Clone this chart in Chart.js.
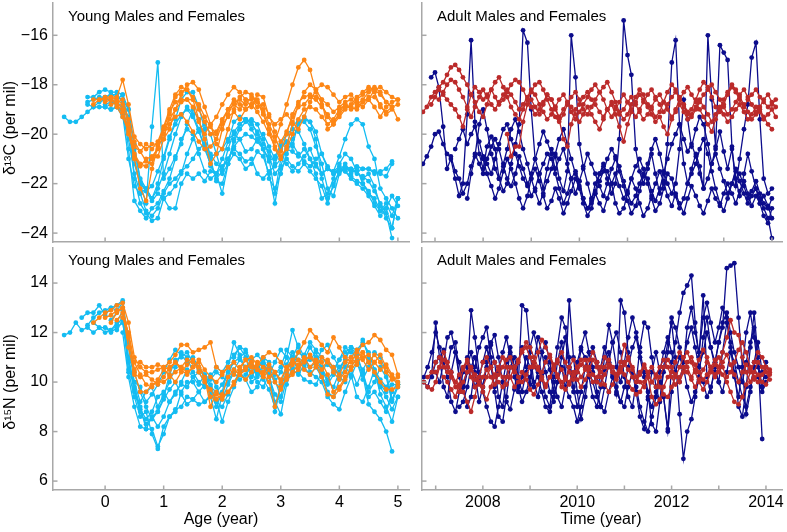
<!DOCTYPE html>
<html>
<head>
<meta charset="utf-8">
<script src="https://cdn.jsdelivr.net/npm/chart.js@4.4.0/dist/chart.umd.min.js"></script>
<style>
  body { margin: 0; background: #fff; width: 787px; height: 532px; position: relative; overflow: hidden;
         font-family: "Liberation Sans", Arial, sans-serif; }
  .panel { position: absolute; }
  .label { position: absolute; color: #000; white-space: nowrap; line-height: 1; }
  .ytitle { transform: translate(-50%, -50%) rotate(-90deg); font-size: 16px; }
  .xtitle { transform: translateX(-50%); font-size: 16px; }
  .ptitle { font-size: 15px; }
</style>
</head>
<body>
<div class="panel" style="left:0;top:0"><canvas id="tl" width="412" height="245"></canvas></div>
<div class="panel" style="left:412px;top:0"><canvas id="tr" width="375" height="245"></canvas></div>
<div class="panel" style="left:0;top:245px"><canvas id="bl" width="412" height="287"></canvas></div>
<div class="panel" style="left:412px;top:245px"><canvas id="br" width="375" height="287"></canvas></div>

<div class="label ptitle" style="left:68px;top:8px">Young Males and Females</div>
<div class="label ptitle" style="left:437px;top:8px">Adult Males and Females</div>
<div class="label ptitle" style="left:68px;top:252px">Young Males and Females</div>
<div class="label ptitle" style="left:437px;top:252px">Adult Males and Females</div>
<div class="label ytitle" style="left:10px;top:128px">δ¹³C (per mil)</div>
<div class="label ytitle" style="left:10px;top:382px">δ¹⁵N (per mil)</div>
<div class="label xtitle" style="left:221px;top:511px">Age (year)</div>
<div class="label xtitle" style="left:601px;top:511px">Time (year)</div>

<script>
// sampling grids
const youngAges = [-0.7, -0.6, -0.5, -0.4, -0.3, -0.2, -0.1, 0.0, 0.1, 0.2,
  0.3, 0.4, 0.5, 0.6, 0.7, 0.8, 0.9, 1.0, 1.1, 1.2,
  1.3, 1.4, 1.5, 1.6, 1.7, 1.8, 1.9, 2.0, 2.1, 2.2,
  2.3, 2.4, 2.5, 2.6, 2.7, 2.8, 2.9, 3.0, 3.1, 3.2,
  3.3, 3.4, 3.5, 3.6, 3.7, 3.8, 3.9, 4.0, 4.1, 4.2,
  4.3, 4.4, 4.5, 4.6, 4.7, 4.8, 4.9, 5.0];

const adultTimes = [2006.75, 2006.83, 2006.92,
  2007.00, 2007.08, 2007.17, 2007.25, 2007.33, 2007.42, 2007.50, 2007.58, 2007.67, 2007.75, 2007.83, 2007.92,
  2008.00, 2008.08, 2008.17, 2008.25, 2008.33, 2008.42, 2008.50, 2008.58, 2008.67, 2008.75, 2008.83, 2008.92,
  2009.00, 2009.08, 2009.17, 2009.25, 2009.33, 2009.42, 2009.50, 2009.58, 2009.67, 2009.75, 2009.83, 2009.92,
  2010.00, 2010.08, 2010.17, 2010.25, 2010.33, 2010.42, 2010.50, 2010.58, 2010.67, 2010.75, 2010.83, 2010.92,
  2011.00, 2011.08, 2011.17, 2011.25, 2011.33, 2011.42, 2011.50, 2011.58, 2011.67, 2011.75, 2011.83, 2011.92,
  2012.00, 2012.08, 2012.17, 2012.25, 2012.33, 2012.42, 2012.50, 2012.58, 2012.67, 2012.75, 2012.83, 2012.92,
  2013.00, 2013.08, 2013.17, 2013.25, 2013.33, 2013.42, 2013.50, 2013.58, 2013.67, 2013.75, 2013.83, 2013.92,
  2014.00, 2014.08];

// tick labels
const carbonTicks = [-24, -22, -20, -18, -16];
const nitrogenTicks = [6, 8, 10, 12, 14];
const youngAgeTicks = [0, 1, 2, 3, 4, 5];
const adultYearTicks = [2007, 2008, 2009, 2010, 2011, 2012, 2013, 2014];
const adultYearLabels = ["", "2008", "", "2010", "", "2012", "", "2014"];

// young, d13C, males and females (cyan / orange)
const youngC_cyan = [
  [-19.3,-19.5,-19.5,-19.3,-19.1,-18.9,-18.9,-18.9,-19.0,-18.9, -19.3,-20.2,-21.6,-22.4,-23.1,-23.3,-23.0,-22.4,-22.0,-21.8,
   -21.5,-21.3,-21.0,-20.6,-20.4,-20.8,-21.2,-21.4,-21.0,-20.5, -20.2,-20.0,-20.1,-20.3,-20.6,-21.0,-22.4,-21.0,-20.6,-20.7,
   -20.9,-20.6,-21.0,-21.3,-21.6,-21.4,-21.6,-21.4,-21.5,-21.8, -22.0,-22.2,-22.5,-22.9,-23.3,-23.0,-23.8,-22.6],
  [null,null,null,null,-18.5,-18.5,-18.3,-18.2,-18.3,-18.3, -18.4,-19.6,-21.8,-22.8,-23.2,-23.5,-23.4,-22.6,-22.4,-22.1,
   -21.6,-20.8,-20.2,-19.8,-19.6,-20.0,-20.8,-21.6,-21.2,-20.3, -19.8,-19.5,-19.4,-19.6,-20.2,-20.9,-21.6,-21.3,-20.5,-19.6,
   -19.5,-19.5,-19.8,-20.5,-21.2,-22.2,-22.5,-21.6,-21.3,-21.4, -21.6,-21.7,-21.9,-22.3,-22.8,-23.2,-24.2],
  [null,null,null,null,-18.7,-18.6,-18.5,-18.5,-18.4,-18.5, -18.6,-19.0,-20.6,-21.8,-22.2,-22.6,-22.2,-21.6,-20.8,-20.0,
   -19.3,-18.9,-19.2,-19.8,-20.6,-21.2,-21.8,-21.5,-20.6,-19.9, -19.6,-19.4,-19.6,-19.9,-20.4,-20.7,-21.2,-20.6,-20.3,-20.5,
   -19.5,-19.4,-19.5,-19.9,-20.8,-21.4,-21.5,-20.9,-20.2,-19.6, -19.4,-19.6,-20.5,-21.0,-22.2,-22.6,-23.0,-23.4],
  [null,null,null,null,-18.8,-18.9,-18.7,-18.6,-18.6,-18.7, -18.9,-19.3,-21.0,-22.0,-22.8,-19.7,-17.1,-21.8,-21.4,-20.9,
   -20.4,-19.6,-19.0,-19.4,-20.4,-21.3,-21.6,-22.4,-21.2,-20.8, -21.0,-21.4,-21.2,-20.7,-20.9,-21.6,-22.8,-21.4,-21.0,-21.3,
   -21.5,-21.2,-21.5,-21.8,-22.1,-22.8,-22.0,-21.5,-21.4,-21.5, -21.3,-21.4,-21.4,-21.5,-21.6,-21.7,-21.2],
  [null,null,null,null,null,null,null,-18.9,-18.8,-18.6, -18.4,-19.0,-20.4,-21.9,-22.3,-22.7,-22.4,-22.6,-23.0,-23.0,
   -22.0,-21.6,-21.8,-21.6,-21.9,-21.5,-21.6,-21.3,-21.0,-20.6, -20.8,-21.1,-21.0,-21.6,-21.8,-21.5,-21.3,-21.0,-21.2,-21.5,
   -21.2,-20.9,-20.6,-21.2,-21.6,-21.4,-21.5,-21.3,-21.5,-21.7, -21.9,-22.0,-22.3,-22.8,-23.1,-23.0,-22.5,-22.9],
  [null,null,null,null,null,null,-18.6,-18.5,-18.4,-18.4, -18.7,-20.6,-22.7,-23.1,-23.4,-23.0,-22.8,-22.3,-21.8,-21.0,
   -20.2,-19.8,-20.0,-20.8,-21.5,-21.8,-21.6,-21.0,-20.3,-19.5, -19.3,-19.4,-19.5,-20.0,-20.6,-21.1,-20.9,-20.4,-20.0,-19.8,
   -19.9,-20.4,-21.0,-21.6,-22.6,-22.4,-21.8,-21.2,-20.8,-21.0, -21.5,-21.8,-21.6,-22.1,-22.9,-23.4,-23.8,-22.6],
  [null,null,null,null,null,null,null,-18.8,-18.7,-18.8, -19.2,-21.0,-22.1,-22.4,-22.2,-22.6,-22.0,-21.0,-20.2,-19.4,
   -18.6,-18.3,-18.3,-18.9,-19.8,-21.0,-21.9,-22.0,-21.2,-20.2, -19.6,-19.4,-19.8,-20.2,-20.6,-21.8,-22.2,-21.6,-20.8,-20.2,
   -19.6,-19.3,-19.5,-20.2,-21.8,-22.6,-22.1,-21.5,-21.2,-21.6, -21.4,-22.0,-22.4,-22.6,-23.1,-22.8,-23.3,-22.6],
  [null,null,null,null,null,null,null,null,-19.0,-18.9, -19.0,-19.8,-21.2,-22.0,-22.3,-22.1,-21.5,-20.9,-20.1,-19.6,
   -19.2,-19.0,-19.3,-19.9,-20.5,-20.9,-20.8,-20.6,-20.2,-20.0, -20.2,-20.7,-20.6,-20.2,-20.0,-20.5,-21.0,-20.5,-20.3,-20.4,
   -20.8,-21.1,-21.3,-21.0,-20.8,-21.3,-21.6,-21.5,-21.4,-21.4, -21.5,-21.4,-21.4,-21.6,-21.5,-21.4,-21.1],
];
const youngC_orange = [
  [null,null,null,null,null,-18.6,-18.6,-18.6,-18.5,-18.5, -17.8,-18.8,-20.1,-20.4,-20.6,-20.4,-20.4,-20.2,-19.8,-19.0,
   -18.4,-18.0,-17.9,-18.2,-18.9,-19.6,-20.4,-20.6,-19.8,-19.0, -18.5,-18.3,-18.4,-18.7,-19.2,-19.8,-20.3,-19.6,-18.8,-18.0,
   -17.3,-17.0,-17.4,-18.3,-18.8,-19.3,-19.6,-19.3,-19.0,-18.8, -18.5,-18.3,-18.1,-18.2,-18.4,-18.7,-18.9,-19.4],
  [null,null,null,null,null,-18.8,-18.6,-18.5,-18.5,-18.6, -18.8,-19.6,-20.8,-21.2,-21.3,-21.0,-20.9,-20.2,-19.2,-18.5,
   -18.3,-18.2,-18.6,-19.4,-20.2,-21.2,-20.8,-19.8,-19.2,-18.7, -18.6,-18.8,-18.5,-18.7,-19.1,-19.8,-20.6,-21.0,-20.5,-19.6,
   -18.8,-18.3,-18.0,-18.2,-18.6,-19.8,-19.6,-19.1,-18.8,-18.9, -19.0,-18.7,-18.6,-18.9,-19.3,-18.9,-18.7,-18.6],
  [null,null,null,null,null,null,null,-18.7,-18.6,-18.8, -19.1,-19.8,-21.0,-22.2,-22.7,-21.4,-20.5,-19.8,-19.1,-18.7,
   -18.6,-18.6,-18.6,-18.8,-19.3,-19.7,-20.0,-19.5,-19.0,-18.6, -18.8,-19.0,-18.8,-18.6,-19.0,-19.6,-20.1,-20.7,-20.0,-19.2,
   -18.7,-18.5,-18.4,-18.5,-18.6,-18.8,-19.1,-18.9,-18.7,-18.6, -18.8,-18.6,-18.3,-18.1,-18.3,-18.7,-18.9,-18.8],
  [null,null,null,null,null,null,null,null,-18.8,-18.7, -19.0,-20.0,-20.9,-21.3,-21.0,-20.9,-20.6,-20.0,-19.6,-19.3,
   -19.2,-19.5,-19.9,-20.3,-20.6,-20.5,-20.2,-19.6,-19.3,-19.1, -19.4,-19.0,-18.8,-19.1,-19.5,-20.0,-20.5,-20.9,-20.6,-20.0,
   -19.4,-19.0,-18.9,-19.0,-19.3,-19.6,-19.4,-19.0,-18.8,-19.0, -18.9,-18.7,-18.5,-18.5,-18.8,-19.2,-19.0],
  [null,null,null,null,null,null,null,null,null,-18.9, -19.3,-19.9,-20.5,-20.7,-21.1,-21.2,-20.4,-19.8,-19.4,-19.0,
   -18.7,-18.6,-18.9,-19.5,-20.0,-19.6,-19.3,-18.8,-18.4,-18.1, -18.3,-18.6,-18.9,-18.4,-18.5,-19.3,-19.6,-19.4,-19.2,-19.5,
   -19.8,-19.3,-18.7,-18.2,-18.0,-18.1,-18.4,-18.7,-18.5,-18.4, -18.7,-18.9,-18.6,-18.2,-18.1,-18.3,-18.5,-18.6],
  [null,null,null,null,null,null,null,null,-18.6,-18.7, -18.6,-19.4,-20.3,-20.7,-20.4,-20.6,-20.3,-19.7,-19.0,-18.4,
   -18.1,-18.2,-18.5,-19.0,-19.5,-20.0,-19.9,-19.4,-19.0,-18.8, -19.0,-18.6,-18.6,-18.9,-18.8,-19.2,-19.9,-20.3,-19.9,-19.3,
   -18.9,-18.8,-18.5,-18.6,-18.9,-19.2,-19.5,-19.2,-18.9,-18.9, -18.6,-18.4,-18.2,-18.3,-18.9,-19.1,-18.9],
];

// young, d15N
const youngN_cyan = [
  [11.9,12.0,12.4,12.1,12.2,12.0,12.2,12.2,12.0,12.2, 12.4,11.0,9.8,9.0,8.1,8.1,7.4,7.9,8.6,8.9,
   9.0,9.4,9.3,9.1,9.2,9.5,9.3,8.4,9.2,9.8, 10.3,10.6,10.4,10.0,9.8,10.3,9.2,8.7,9.9,10.6,
   11.2,11.0,10.4,10.2,10.0,9.4,9.1,8.9,9.6,10.2, 10.8,10.3,9.1,8.8,8.5,8.0,7.2],
  [null,null,null,12.6,12.8,12.8,13.1,12.7,13.0,13.1, 13.3,11.6,10.4,9.6,9.0,8.5,8.8,9.4,10.3,10.9,
   11.0,11.2,10.8,10.5,10.2,9.8,9.6,9.9,10.4,10.8, 11.0,11.2,10.6,10.3,10.7,10.4,10.0,10.4,11.0,12.1,
   11.4,10.8,10.9,11.2,10.6,10.1,10.4,10.9,11.4,11.2, 11.0,11.7,11.0,10.3,9.9,9.6,9.9,9.9],
  [null,null,null,null,12.3,12.6,12.8,12.9,13.0,12.9, 13.2,10.4,9.4,8.6,8.8,7.9,7.3,8.2,8.6,8.8,
   9.6,10.0,10.0,9.6,9.2,9.4,8.5,9.5,10.2,11.0, 11.4,11.0,10.2,10.6,10.9,10.5,8.8,9.8,10.4,11.0,
   11.5,11.0,10.6,10.8,10.3,9.6,9.4,10.1,10.6,10.3, 9.4,9.2,9.8,10.5,9.5,9.0,8.4,9.4],
  [null,null,null,null,null,12.4,12.2,12.0,12.1,12.3, 12.6,10.8,9.6,8.8,8.3,8.6,8.2,8.6,9.2,9.6,
   9.9,9.8,10.2,10.4,10.0,9.6,9.0,9.6,10.6,11.6, 11.1,10.5,10.0,10.2,10.6,10.2,9.5,9.2,10.1,10.5,
   10.6,10.9,11.4,11.0,10.5,10.0,9.8,10.4,11.0,11.4, 11.1,10.4,9.6,10.0,10.6,10.2,9.2,9.8],
  [null,null,null,null,null,null,null,12.2,12.1,12.4, 12.9,11.4,10.0,9.2,9.6,9.8,9.0,9.5,10.0,10.6,
   11.2,11.0,10.4,10.0,9.8,10.2,10.6,10.4,10.8,11.1, 11.4,11.3,10.8,10.4,11.0,10.8,10.3,10.6,11.3,11.0,
   10.6,11.1,11.6,11.3,11.0,10.7,10.5,10.9,11.2,11.4, 11.3,11.6,11.2,10.5,10.1,9.8,10.2,9.9],
  [null,null,null,null,null,null,null,null,12.5,12.8, 13.0,10.9,9.7,8.9,8.5,8.8,9.4,9.6,9.2,9.5,
   10.0,10.5,10.2,9.9,10.3,9.9,9.2,9.0,9.5,10.0, 10.4,10.1,9.6,9.8,10.3,10.6,10.1,9.4,10.4,11.0,
   10.4,10.1,10.0,9.9,10.4,10.8,10.6,10.2,10.0,10.6, 11.0,10.4,9.4,9.6,9.2,8.8,9.6,10.0],
  [null,null,null,null,null,null,null,null,null,12.1, 12.5,10.5,10.0,9.8,9.2,9.5,9.9,10.4,10.9,11.3,
   11.1,10.8,11.0,10.6,10.3,10.1,10.4,10.2,10.0,10.5, 10.9,10.6,10.9,11.1,10.8,10.3,10.8,11.3,11.0,10.5,
   10.3,10.7,11.0,10.8,11.3,11.5,11.0,10.6,10.9,11.4, 10.8,10.1,10.6,11.2,11.0,10.4,9.3,9.9],
  [null,null,null,null,null,null,null,null,null,null, 12.0,10.2,9.0,8.2,8.1,8.6,8.8,9.3,9.7,10.0,
   9.5,9.1,9.3,9.6,9.9,10.3,9.8,9.3,9.9,10.4, 10.1,10.3,10.6,10.4,10.1,9.7,9.0,9.9,10.7,11.2,
   10.9,10.6,10.3,10.6,10.2,9.9,10.3,10.6,10.8,10.5, 9.9,10.5,10.9,10.3,9.8,9.4,8.9,9.4],
];
const youngN_orange = [
  [null,null,null,null,null,12.4,12.6,12.8,12.9,13.1, 13.2,12.4,11.0,10.6,10.4,10.4,10.5,10.6,10.8,11.1,
   11.5,11.5,11.2,11.3,11.4,11.6,10.6,10.4,10.6,10.3, 10.6,10.9,11.0,10.7,11.0,11.2,11.1,10.8,10.5,10.8,
   11.2,11.6,12.1,11.8,11.5,11.2,11.8,11.4,11.0,10.8, 11.2,11.5,11.6,11.9,11.7,11.3,11.1,10.3],
  [null,null,null,null,null,null,null,12.6,12.7,12.9, 13.0,11.8,10.5,10.8,10.6,10.6,10.7,10.6,10.5,10.8,
   10.6,10.4,10.6,10.9,10.5,10.2,10.0,10.3,10.6,10.8, 10.5,10.9,10.6,10.5,10.4,10.7,10.4,10.1,10.6,10.9,
   10.6,10.8,11.1,10.8,10.5,10.9,10.6,10.3,10.8,11.0, 10.7,11.2,10.8,11.1,10.8,10.4,10.1,10.2],
  [null,null,null,null,null,null,null,null,12.4,12.8, 13.0,11.9,10.4,9.6,9.6,9.9,10.0,10.0,10.2,10.4,
   10.6,10.9,10.8,10.6,10.2,9.0,9.6,9.4,9.6,10.0, 10.3,10.5,10.8,10.5,10.3,10.0,9.0,9.8,10.1,10.3,
   10.5,10.9,11.0,10.7,10.2,9.5,9.4,9.7,10.1,10.6, 11.0,11.2,10.8,10.4,10.0,9.7,9.7,9.8],
  [null,null,null,null,null,null,null,null,null,12.5, 12.8,11.4,10.3,10.2,10.3,10.1,9.9,10.2,10.6,10.8,
   10.5,10.3,10.6,10.8,10.1,9.4,9.5,9.3,9.6,9.9, 10.4,10.6,10.8,10.5,10.2,10.5,10.0,9.7,10.2,10.4,
   10.7,11.0,10.6,10.9,10.8,10.3,9.6,9.8,10.2,10.5, 10.8,11.0,11.1,10.8,10.5,10.7,10.3,10.0],
  [null,null,null,null,null,null,null,null,null,null, 12.6,12.0,10.8,10.3,9.9,9.8,10.1,10.5,10.3,10.0,
   10.4,10.7,10.9,10.4,10.0,9.7,9.3,9.5,10.2,10.5, 10.3,10.1,10.4,10.8,10.6,10.2,10.4,10.0,10.3,10.7,
   10.9,10.5,10.3,10.6,11.0,10.8,10.4,10.1,10.4,11.0, 11.3,10.9,10.5,10.8,11.1,10.6,10.2,9.9],
];

// adults, d13C (navy / red), monthly
const adultC_navy = [
  [-21.2,-20.9,-20.5,
   -20.0,-19.9,-20.4,-20.8,-20.9,-21.5,-21.8,-22.4,-22.0,-21.3,-20.8,-21.2,
   -21.6,-21.0,-20.5,-20.2,-20.6,-21.3,-21.8,-22.1,-21.6,-20.9,-21.4,-22.0,
   -22.5,-22.2,-21.6,-21.2,-20.8,-21.0,-21.6,-22.2,-22.8,-22.4,-21.8,-21.5,
   -21.9,-22.6,-23.0,-22.7,-22.0,-21.6,-21.3,-21.5,-22.0,-22.8,-23.2,-23.0,
   -22.4,-21.8,-21.3,-21.0,-21.4,-22.0,-22.6,-23.1,-22.8,-22.2,-21.6,-21.8,
   -22.5,-23.0,-22.6,-22.0,-21.6,-21.2,-20.6,-20.2,-20.8,-21.5,-22.2,-22.8,
   -23.1,-22.6,-22.0,-21.4,-21.9,-22.4,-22.8,-22.5,-22.2,-22.6,-23.0,-23.4,
   -24.2],
  [null,null,-17.7,
   -17.5,-18.1,-19.7,-21.4,-21.0,-21.8,-22.5,-22.0,-19.2,-16.2,-19.5,-20.8,
   -21.4,-20.5,-20.1,-20.6,-21.8,-22.3,-22.0,-21.2,-20.4,-19.6,-15.8,-16.3,
   -19.0,-21.0,-21.6,-22.2,-21.4,-20.6,-20.9,-21.8,-22.3,-21.5,-16.0,-17.7,
   -20.4,-21.3,-22.0,-22.6,-22.3,-21.6,-21.2,-21.8,-22.4,-22.0,-20.2,-15.4,
   -16.8,-17.6,-20.6,-21.5,-22.0,-21.4,-20.8,-21.6,-22.4,-22.0,-20.4,-17.1,
   -16.2,-19.6,-21.2,-22.0,-21.4,-20.8,-21.3,-22.2,-16.0,-18.6,-20.5,-16.4,
   -16.7,-17.0,-20.5,-22.1,-21.0,-19.8,-18.8,-16.9,-16.3,-19.4,-21.8,-22.4,
   -22.2],
  [null,null,null,
   null,null,null,null,null,-20.6,-20.2,-19.8,-20.4,-20.0,-19.7,-20.3,
   -20.9,-21.2,-21.6,-21.0,-20.4,-19.8,-19.6,-20.2,-20.8,-21.3,-21.8,-22.1,
   -21.6,-21.0,-20.4,-19.9,-20.3,-20.8,-21.4,-21.0,-20.6,-21.2,-21.8,-22.4,
   -21.9,-21.4,-20.8,-21.2,-21.6,-22.1,-22.5,-22.0,-21.4,-21.0,-21.3,-21.9,
   -22.4,-22.8,-22.5,-22.0,-21.6,-21.8,-22.3,-22.7,-22.2,-21.6,-21.0,-20.4,
   -20.0,-19.6,-20.2,-20.7,-20.4,-20.9,-21.6,-22.2,-21.8,-21.2,-20.8,-21.4,
   -21.9,-22.4,-22.0,-21.5,-21.6,-22.1,-22.6,-22.3,-21.9,-22.4,-22.8,-23.0,
   -22.6],
  [null,null,null,
   null,null,null,null,null,null,null,null,-22.6,-21.6,-20.9,-19.6,
   -19.0,-19.8,-20.8,-21.4,-21.8,-21.2,-20.6,-19.8,-19.4,-19.9,-20.6,-21.2,
   -21.8,-22.3,-22.8,-22.4,-21.9,-21.4,-20.8,-20.2,-19.8,-20.4,-21.0,-21.6,
   -22.1,-22.6,-23.0,-22.8,-22.4,-21.9,-21.5,-21.0,-20.6,-20.9,-21.5,-22.1,
   -22.7,-23.2,-22.9,-22.3,-21.7,-21.2,-20.6,-20.2,-20.8,-21.5,-22.0,-22.4,
   -22.0,-20.6,-18.6,-19.4,-20.5,-19.8,-19.3,-19.6,-20.4,-21.2,-20.6,-19.9,
   -20.7,-21.4,-20.6,-21.8,-22.5,-21.6,-20.8,-21.5,-22.2,-22.8,-22.5,-22.9,
   -23.4],
  [null,null,null,
   null,null,null,null,null,null,null,null,null,null,null,null,
   -21.0,-21.6,-22.1,-22.6,-22.2,-21.5,-21.0,-21.4,-22.0,-22.6,-23.0,-22.5,
   -21.8,-21.4,-21.9,-22.5,-23.0,-22.7,-22.2,-22.6,-23.2,-22.8,-22.3,-21.8,
   -22.2,-22.8,-23.3,-23.0,-22.4,-22.8,-23.1,-22.6,-22.0,-21.6,-22.1,-22.6,
   -22.3,-21.8,-22.2,-22.8,-23.3,-23.0,-22.5,-22.0,-21.5,-21.9,-22.5,-22.9,
   -22.4,-22.8,-23.2,-22.6,-22.1,-22.5,-22.9,-23.2,-22.7,-22.2,-22.6,-22.9,
   -22.4,-22.0,-22.4,-22.8,-22.3,-21.9,-22.4,-22.9,-22.5,-22.8,-23.3,-23.6,
   -23.0],
];
const adultC_red = [
  [-19.1,-18.9,-18.5,
   -18.3,-18.1,-17.9,-17.6,-17.3,-17.2,-17.4,-17.7,-18.0,-18.4,-18.7,-19.1,
   -19.3,-18.8,-18.2,-17.9,-17.7,-18.1,-18.5,-18.9,-19.2,-19.4,-19.0,-18.6,
   -18.3,-18.0,-17.9,-18.2,-18.6,-19.0,-19.3,-19.5,-19.2,-18.8,-18.5,-18.3,
   -18.6,-19.0,-19.2,-18.9,-18.6,-18.3,-18.1,-17.9,-18.3,-18.7,-19.1,-19.4,
   -19.2,-18.8,-18.5,-18.2,-18.4,-18.8,-19.0,-19.3,-19.1,-18.7,-18.3,-18.0,
   -18.2,-18.6,-18.9,-19.2,-19.0,-18.6,-18.2,-17.9,-18.1,-18.5,-18.9,-19.1,
   -18.8,-18.4,-18.1,-18.3,-18.6,-18.9,-18.6,-18.4,-18.2,-18.5,-18.7,-18.9,
   -18.8,-18.6],
  [null,null,-18.8,
   -18.5,-18.2,-18.4,-18.6,-18.8,-19.0,-19.3,-19.7,-19.0,-18.4,-18.1,-18.3,
   -18.6,-18.4,-18.2,-18.5,-18.8,-18.6,-18.3,-18.0,-17.8,-17.9,-18.2,-18.6,
   -18.9,-19.2,-19.0,-18.7,-18.4,-18.6,-18.9,-19.4,-20.2,-20.5,-19.6,-19.0,
   -18.8,-18.5,-18.3,-18.6,-18.8,-19.1,-19.3,-19.0,-18.8,-19.2,-19.7,-20.3,
   -19.6,-19.1,-18.7,-18.4,-18.6,-18.9,-19.2,-19.5,-19.3,-19.7,-20.0,-19.4,
   -19.0,-18.6,-18.3,-18.1,-18.4,-18.7,-19.0,-19.3,-19.6,-19.9,-19.4,-19.0,
   -18.6,-18.3,-18.0,-18.2,-18.5,-18.8,-19.1,-19.4,-19.2,-19.0,-19.3,-19.6,
   -19.8],
  [null,null,null,
   null,-18.6,-18.3,-18.0,-17.8,-17.9,-18.2,-18.5,-18.9,-19.3,-18.9,-18.5,
   -18.2,-18.5,-18.8,-19.0,-18.7,-18.4,-18.2,-18.4,-18.7,-19.0,-18.8,-18.5,
   -18.2,-18.4,-18.8,-19.1,-19.4,-19.2,-18.9,-18.6,-18.4,-18.7,-19.1,-19.4,
   -19.1,-18.8,-18.5,-18.2,-18.0,-18.3,-18.6,-19.0,-19.3,-19.0,-18.7,-18.4,
   -18.7,-19.0,-19.3,-19.0,-18.7,-18.4,-18.2,-18.5,-18.8,-19.1,-18.8,-18.5,
   -18.3,-18.5,-18.8,-19.1,-19.3,-19.0,-18.7,-18.4,-18.2,-18.0,-18.3,-18.6,
   -18.9,-19.2,-19.0,-18.7,-18.4,-18.2,-18.5,-18.8,-19.1,-18.9,-18.6,-18.4,
   -18.7,-18.9],
  [null,null,null,
   null,null,null,null,null,null,null,null,null,null,null,null,
   null,null,null,null,null,null,-20.0,-20.9,-20.5,-20.5,-19.5,-18.8,
   -18.6,-18.9,-19.2,-18.8,-18.4,-18.6,-19.0,-19.3,-19.0,-18.7,-18.9,-19.2,
   -19.5,-19.2,-18.9,-19.2,-19.5,-19.8,-19.4,-19.0,-18.7,-18.9,-19.2,-19.0,
   -18.7,-18.5,-18.8,-19.1,-19.4,-19.2,-18.9,-18.6,-18.4,-18.7,-19.0,-19.3,
   -19.1,-18.8,-19.1,-19.4,-19.2,-18.9,-18.6,-18.9,-19.2,-19.5,-19.2,-18.9,
   -19.2,-19.5,-19.3,-19.0,-18.8,-19.1,-19.4,-19.2,-18.9,-19.1,-19.4,-19.2,
   -19.0,-19.3],
];

// adults, d15N
const adultN_navy = [
  [10.0,9.8,10.4,
   12.4,11.0,11.3,10.6,11.4,11.6,10.2,9.6,10.4,12.9,11.8,10.4,
   9.8,10.6,11.5,10.8,9.4,9.0,10.2,11.2,10.6,9.9,13.1,12.9,
   11.2,10.0,9.4,10.3,11.0,10.5,9.6,10.8,11.6,10.2,13.3,11.0,
   9.6,8.5,9.4,10.6,11.4,10.8,9.8,10.5,11.2,10.3,9.5,13.3,
   12.8,11.2,10.4,9.6,8.6,8.1,9.3,10.4,11.2,10.4,9.4,8.1,
   10.8,11.6,12.8,13.6,13.9,14.3,12.4,11.0,13.5,10.2,9.6,10.8,
   11.6,12.2,14.6,14.7,14.8,12.6,10.6,8.7,9.6,10.8,11.6,10.4,
   10.2],
  [10.2,10.6,11.2,
   12.0,11.4,10.8,11.8,12.0,11.2,10.2,9.8,10.6,11.2,10.4,9.2,
   9.8,10.8,11.6,11.9,11.0,10.0,9.2,8.9,9.7,10.8,11.4,10.6,
   9.9,10.8,11.8,11.2,10.4,9.6,9.2,10.0,11.0,11.8,10.6,9.6,
   10.4,11.3,11.0,10.2,9.4,9.0,9.8,11.0,12.3,11.6,10.6,10.0,
   10.8,11.8,12.6,12.0,11.2,10.4,9.6,8.3,8.0,9.2,10.6,11.6,
   12.4,11.0,8.7,6.9,8.0,8.5,9.4,10.2,11.8,12.6,11.4,10.6,
   10.0,11.2,12.4,11.6,10.4,9.0,8.6,9.8,11.4,12.8,11.0,7.7],
  [null,null,10.2,
   10.8,11.0,9.8,9.4,10.4,11.2,10.8,9.8,9.0,9.4,10.6,11.4,
   11.8,12.2,11.0,9.6,8.6,8.4,9.4,10.6,11.0,10.2,9.6,10.4,
   11.4,12.0,11.2,10.2,9.4,9.0,10.2,11.4,12.6,12.2,11.0,9.8,
   9.0,9.6,10.6,11.2,10.6,9.6,9.0,9.8,10.8,11.6,12.0,11.2,
   10.2,9.4,9.0,10.0,11.4,12.4,12.2,11.0,9.8,9.2,10.4,11.2,
   12.6,12.2,11.4,10.6,12.2,13.0,12.0,11.2,12.6,13.2,12.4,11.6,
   12.2,13.0,12.6,11.4,10.2,9.4,10.6,12.0,12.8,11.8,10.6,9.8,
   10.8],
  [null,null,null,
   10.4,10.0,10.8,10.2,9.2,8.8,9.6,10.4,11.0,10.6,9.8,10.2,
   10.8,11.4,10.6,9.8,10.4,11.2,11.8,11.0,10.2,9.6,10.2,11.0,
   10.6,9.8,10.4,11.2,11.6,10.8,10.0,9.4,9.0,9.8,10.6,10.2,
   10.8,11.4,12.0,11.2,10.4,10.0,10.6,11.4,10.8,10.2,9.6,9.2,
   9.8,10.6,11.4,11.8,11.0,10.2,9.4,9.0,9.6,10.4,11.2,11.8,
   11.2,10.4,10.0,10.8,11.6,12.2,11.4,10.6,11.2,12.0,11.4,10.8,
   11.6,12.4,12.8,12.0,11.2,10.6,10.0,10.8,11.6,12.2,10.8,9.8,
   10.6],
  [null,null,null,
   null,null,null,null,null,null,9.0,9.2,9.8,10.6,11.0,10.2,
   9.6,9.0,8.4,8.2,9.0,10.0,10.8,11.4,10.6,9.8,9.2,9.6,
   10.2,10.8,10.2,9.6,9.0,8.8,9.4,10.0,10.6,9.8,9.4,9.0,
   8.4,9.0,9.8,10.4,10.0,9.4,9.0,8.8,9.6,10.2,9.8,9.2,
   9.0,9.8,10.4,9.8,9.0,8.4,8.0,8.6,9.4,10.0,9.4,8.0,
   9.6,10.4,11.0,10.6,9.8,9.2,9.6,10.4,10.0,9.4,9.8,10.4,
   10.0,9.6,10.4,11.2,10.8,10.0,9.4,9.0,9.8,10.6,10.2,9.6,
   10.0],
];
const adultN_red = [
  [10.0,9.8,9.7,
   10.0,10.6,11.2,10.8,10.4,10.0,9.8,9.6,9.2,8.8,9.4,10.2,
   10.8,11.0,10.6,10.2,10.0,9.8,10.2,10.6,10.4,10.8,11.2,11.4,
   11.0,10.6,11.2,11.7,11.4,11.0,10.6,10.2,9.8,10.1,10.6,10.9,
   10.6,10.2,10.5,10.9,11.2,10.8,10.4,10.6,10.9,10.6,10.3,10.8,
   11.5,11.0,10.6,10.2,10.0,9.8,10.2,9.4,9.1,9.3,9.8,10.2,
   10.4,10.8,11.2,11.0,10.6,10.2,10.5,10.9,11.3,11.0,10.6,10.3,
   10.6,11.2,11.8,12.5,12.0,11.9,11.0,10.4,10.0,10.4,10.8,10.6,
   10.4,10.1],
  [null,10.2,10.4,
   10.8,11.0,10.6,10.4,10.2,9.8,9.6,10.0,10.4,10.6,10.3,10.0,
   9.8,10.2,10.6,10.8,10.5,10.2,9.9,10.2,10.6,10.9,11.3,11.6,
   11.4,11.0,10.6,10.2,9.9,10.2,10.5,10.8,10.5,10.2,9.9,10.3,
   10.6,10.9,10.6,10.3,10.0,10.2,10.6,11.0,10.7,10.4,10.2,10.5,
   10.8,10.5,10.2,10.0,10.3,10.6,10.3,10.0,9.8,10.2,10.6,10.9,
   10.6,10.3,10.0,10.4,10.8,11.0,10.7,10.4,10.1,10.3,10.6,10.9,
   10.6,10.3,10.0,9.6,9.2,9.1,9.4,9.9,10.4,10.8,11.2,11.0,
   10.6,10.5],
  [null,null,null,
   10.4,10.6,10.9,10.6,10.2,10.0,10.3,10.6,10.9,10.5,10.1,9.9,
   10.2,10.5,10.2,9.9,10.3,10.6,10.9,11.0,10.6,10.2,10.0,10.3,
   10.6,10.8,10.5,10.1,9.8,10.2,10.5,10.9,11.2,10.8,10.4,10.1,
   10.4,10.7,10.9,10.6,10.3,10.0,9.9,10.3,10.6,10.4,10.1,10.4,
   10.7,10.9,10.5,10.2,10.4,10.7,10.4,10.0,10.3,10.6,10.9,10.6,
   10.2,9.9,10.2,10.6,10.4,10.1,9.8,10.1,10.5,10.8,10.5,10.2,
   10.4,10.8,11.1,10.7,10.3,10.0,10.4,10.7,10.5,10.2,10.0,10.3,
   10.6,10.4],
  [null,null,null,
   null,null,10.2,10.0,9.7,9.4,9.9,10.5,10.8,10.2,9.8,10.0,
   9.6,9.3,9.8,10.3,10.6,11.0,10.6,10.2,9.8,10.0,10.4,10.1,
   9.7,9.5,9.9,10.4,10.8,11.1,10.7,10.3,10.0,9.7,10.0,10.4,
   10.1,9.8,10.1,10.5,10.9,10.6,10.2,9.9,9.6,9.9,10.3,10.6,
   10.3,10.0,9.7,9.5,9.6,10.0,10.4,10.6,10.2,9.8,9.5,9.4,
   9.8,10.2,10.6,11.0,11.2,10.8,10.4,10.0,9.7,10.0,10.4,10.7,
   11.0,10.6,10.2,10.4,10.8,11.3,11.6,11.2,10.6,10.1,10.3,10.0,
   9.9,10.3],
];

const AXIS = "#a8a8a8";
const CYAN = "#14bcf2";
const ORANGE = "#fd8615";
const NAVY = "#0c0c8c";
const RED = "#bb2a2a";

Chart.defaults.font.family = '"Liberation Sans", Arial, sans-serif';
Chart.defaults.color = "#000";

// short tick marks pointing into the plot
const innerTicks = {
  id: "innerTicks",
  afterDraw(chart) {
    const { ctx, chartArea: a, scales } = chart;
    ctx.save();
    ctx.strokeStyle = AXIS;
    ctx.lineWidth = 1.5;
    scales.x.ticks.forEach((t) => {
      const px = scales.x.getPixelForValue(t.value);
      ctx.beginPath();
      ctx.moveTo(px, a.bottom);
      ctx.lineTo(px, a.bottom - 4.5);
      ctx.stroke();
    });
    scales.y.ticks.forEach((t) => {
      const py = scales.y.getPixelForValue(t.value);
      ctx.beginPath();
      ctx.moveTo(a.left, py);
      ctx.lineTo(a.left + 4.5, py);
      ctx.stroke();
    });
    ctx.restore();
  },
};

function toDataset(values, grid, color) {
  const pts = [];
  values.forEach((v, i) => {
    if (i < grid.length) pts.push({ x: grid[i], y: v });
  });
  return {
    data: pts,
    borderColor: color,
    backgroundColor: color,
    pointBackgroundColor: color,
    borderWidth: 1.3,
    pointRadius: 2.4,
    pointHoverRadius: 2.4,
    pointBorderWidth: 0,
    tension: 0,
    spanGaps: false,
  };
}

function makePanel(id, p) {
  const datasets = [
    ...p.front.map((v) => toDataset(v, p.grid, p.frontColor)),
    ...p.back.map((v) => toDataset(v, p.grid, p.backColor)),
  ];
  return new Chart(document.getElementById(id), {
    type: "line",
    data: { datasets },
    options: {
      responsive: false,
      animation: false,
      events: [],
      layout: { padding: { top: 2, right: p.padRight, left: 0, bottom: 0 } },
      plugins: { legend: { display: false }, tooltip: { enabled: false } },
      scales: {
        x: {
          type: "linear",
          min: p.xMin,
          max: p.xMax,
          grid: { display: false, drawTicks: false },
          border: { color: AXIS, width: 1.5 },
          ticks: {
            display: p.xLabels,
            font: { size: 16 },
            padding: 3,
            autoSkip: false,
            maxRotation: 0,
            callback: p.xFormat,
          },
          afterBuildTicks: (s) => { s.ticks = p.xTicks.map((v) => ({ value: v })); },
          afterFit: (s) => { s.height = p.xHeight; s.paddingLeft = 0; s.paddingRight = 0; },
        },
        y: {
          min: p.yMin,
          max: p.yMax,
          grid: { display: false, drawTicks: false },
          border: { color: AXIS, width: 1.5 },
          ticks: {
            display: p.yLabels,
            font: { size: 16 },
            padding: 5,
            callback: (v) => String(v).replace("-", "\u2212"),
          },
          afterBuildTicks: (s) => { s.ticks = p.yTicks.map((v) => ({ value: v })); },
          afterFit: (s) => { s.width = p.yWidth; s.paddingTop = 0; s.paddingBottom = 0; },
        },
      },
    },
    plugins: [innerTicks],
  });
}

const youngX = { grid: youngAges, xMin: -0.89, xMax: 5.2, xTicks: youngAgeTicks, padRight: 2, yWidth: 53, yLabels: true,
  xFormat: (v) => String(v) };
const adultX = { grid: adultTimes, xTicks: adultYearTicks, padRight: 5, yWidth: 10, yLabels: false,
  xFormat: (v, i) => adultYearLabels[i] };

makePanel("tl", { ...youngX, front: youngC_orange, frontColor: ORANGE, back: youngC_cyan, backColor: CYAN,
  yMin: -24.36, yMax: -14.67, yTicks: carbonTicks, xLabels: false, xHeight: 3 });
makePanel("tr", { ...adultX, front: adultC_red, frontColor: RED, back: adultC_navy, backColor: NAVY,
  xMin: 2006.73, xMax: 2014.21, yMin: -24.36, yMax: -14.67, yTicks: carbonTicks, xLabels: false, xHeight: 3 });
makePanel("bl", { ...youngX, front: youngN_orange, frontColor: ORANGE, back: youngN_cyan, backColor: CYAN,
  yMin: 5.64, yMax: 15.44, yTicks: nitrogenTicks, xLabels: true, xHeight: 42 });
makePanel("br", { ...adultX, front: adultN_red, frontColor: RED, back: adultN_navy, backColor: NAVY,
  xMin: 2006.71, xMax: 2014.34, yMin: 5.64, yMax: 15.44, yTicks: nitrogenTicks, xLabels: true, xHeight: 42 });
</script>
</body>
</html>
